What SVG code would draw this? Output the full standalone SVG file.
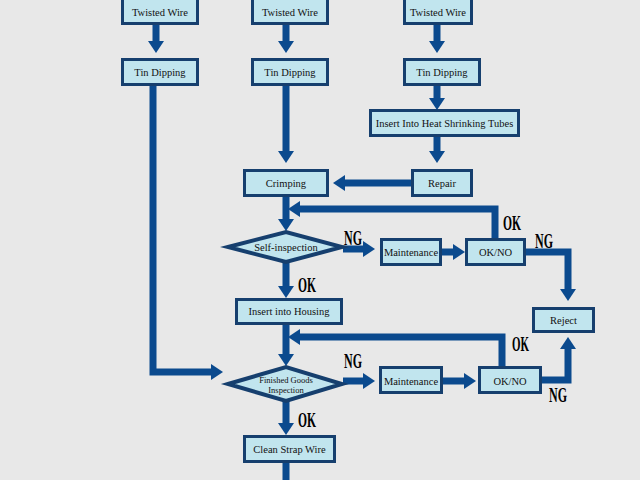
<svg xmlns="http://www.w3.org/2000/svg" width="640" height="480" viewBox="0 0 640 480">
<style>
.bg{fill:#e8e8e8}
.box{fill:#c1e5ee;stroke:#163f6e;stroke-width:3}
.dia{stroke-width:4}
.c{fill:none;stroke:#0b4a8e;stroke-width:7;stroke-linejoin:miter;stroke-linecap:butt}
.t{font-family:"Liberation Serif","Times New Roman",serif;font-size:10.5px;fill:#111;text-anchor:middle}
.s{font-size:8.5px}
.lb{font-family:"Liberation Serif","Times New Roman",serif;font-size:21px;font-weight:bold;fill:#000}
</style>
<defs>
<marker id="ah" markerUnits="userSpaceOnUse" markerWidth="12" markerHeight="16" refX="2" refY="8" orient="auto" overflow="visible">
<path d="M0,0 L12,8 L0,16 Z" fill="#0b4a8e"/>
</marker>
</defs>
<rect class="bg" x="0" y="0" width="640" height="480"/>
<g id="connectors">
<path class="c" d="M156,25 V43" marker-end="url(#ah)"/>
<path class="c" d="M286,25 V43" marker-end="url(#ah)"/>
<path class="c" d="M437,25 V43" marker-end="url(#ah)"/>
<path class="c" d="M153,86 V372 H213" marker-end="url(#ah)"/>
<path class="c" d="M286,86 V153" marker-end="url(#ah)"/>
<path class="c" d="M437,86 V100" marker-end="url(#ah)"/>
<path class="c" d="M437,137 V153" marker-end="url(#ah)"/>
<path class="c" d="M411,183 H343" marker-end="url(#ah)"/>
<path class="c" d="M286,196 V221" marker-end="url(#ah)"/>
<path class="c" d="M495,238 V209 H298" marker-end="url(#ah)"/>
<path class="c" d="M343,249 H365" marker-end="url(#ah)"/>
<path class="c" d="M442,252 H455" marker-end="url(#ah)"/>
<path class="c" d="M526,252 H568 V291" marker-end="url(#ah)"/>
<path class="c" d="M286,263 V288" marker-end="url(#ah)"/>
<path class="c" d="M286,325 V356" marker-end="url(#ah)"/>
<path class="c" d="M502,366 V337 H298" marker-end="url(#ah)"/>
<path class="c" d="M343,381 H365" marker-end="url(#ah)"/>
<path class="c" d="M443,381 H466" marker-end="url(#ah)"/>
<path class="c" d="M541,380 H568 V347" marker-end="url(#ah)"/>
<path class="c" d="M286,401 V425" marker-end="url(#ah)"/>
<path class="c" d="M286,463 V480"/>
</g>
<g id="tw1"><rect class="box" x="122.5" y="-5" width="75" height="28.5"/><text class="t" x="160" y="16">Twisted Wire</text></g>
<g id="tw2"><rect class="box" x="252.5" y="-5" width="75" height="28.5"/><text class="t" x="290" y="16">Twisted Wire</text></g>
<g id="tw3"><rect class="box" x="404.5" y="-5" width="67" height="28.5"/><text class="t" x="438" y="16">Twisted Wire</text></g>
<g id="td1"><rect class="box" x="122.5" y="59.5" width="75" height="25"/><text class="t" x="160" y="76">Tin Dipping</text></g>
<g id="td2"><rect class="box" x="252.5" y="59.5" width="75" height="25"/><text class="t" x="290" y="76">Tin Dipping</text></g>
<g id="td3"><rect class="box" x="404.5" y="59.5" width="75" height="25"/><text class="t" x="442" y="76">Tin Dipping</text></g>
<g id="heat"><rect class="box" x="370.5" y="110.5" width="148" height="25"/><text class="t" x="444.5" y="127">Insert Into Heat Shrinking Tubes</text></g>
<g id="repair"><rect class="box" x="412.5" y="170.5" width="59" height="25"/><text class="t" x="442" y="187">Repair</text></g>
<g id="crimping"><rect class="box" x="244.5" y="170.5" width="83" height="25"/><text class="t" x="286" y="187">Crimping</text></g>
<g id="self"><polygon class="box dia" points="228,247 286,232 342,247 286,262"/><text class="t" x="286" y="251">Self-inspection</text></g>
<g id="maint1"><rect class="box" x="381.5" y="239.5" width="59" height="25"/><text class="t" x="411" y="256">Maintenance</text></g>
<g id="okno1"><rect class="box" x="466.5" y="239.5" width="58" height="25"/><text class="t" x="495.5" y="256">OK/NO</text></g>
<g id="reject"><rect class="box" x="533.5" y="308.5" width="60" height="23"/><text class="t" x="563.5" y="324">Reject</text></g>
<g id="housing"><rect class="box" x="236.5" y="299.5" width="105" height="24"/><text class="t" x="289" y="315">Insert into Housing</text></g>
<g id="fg"><polygon class="box dia" points="228,384 286,367 342,384 286,401"/><text class="t s" x="286" y="383">Finished Goods</text><text class="t s" x="286" y="393">Inspection</text></g>
<g id="maint2"><rect class="box" x="380.5" y="367.5" width="61" height="25"/><text class="t" x="411" y="385">Maintenance</text></g>
<g id="okno2"><rect class="box" x="479.5" y="367.5" width="61" height="25"/><text class="t" x="510" y="385">OK/NO</text></g>
<g id="clean"><rect class="box" x="244.5" y="436.5" width="90" height="25"/><text class="t" x="289.5" y="453">Clean Strap Wire</text></g>
<g id="labels">
<text class="lb" x="344" y="245" textLength="18" lengthAdjust="spacingAndGlyphs">NG</text>
<text class="lb" x="503" y="230" textLength="18" lengthAdjust="spacingAndGlyphs">OK</text>
<text class="lb" x="535" y="248" textLength="18" lengthAdjust="spacingAndGlyphs">NG</text>
<text class="lb" x="298" y="292" textLength="18" lengthAdjust="spacingAndGlyphs">OK</text>
<text class="lb" x="344" y="368" textLength="18" lengthAdjust="spacingAndGlyphs">NG</text>
<text class="lb" x="512" y="351" textLength="17" lengthAdjust="spacingAndGlyphs">OK</text>
<text class="lb" x="549" y="402" textLength="18" lengthAdjust="spacingAndGlyphs">NG</text>
<text class="lb" x="298" y="427" textLength="18" lengthAdjust="spacingAndGlyphs">OK</text>
</g>
</svg>
